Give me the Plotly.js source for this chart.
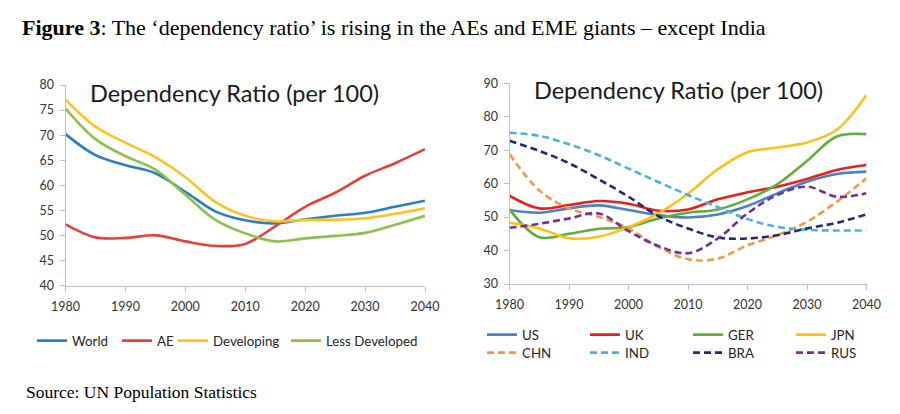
<!DOCTYPE html>
<html>
<head>
<meta charset="utf-8">
<script src="https://cdn.plot.ly/plotly-3.0.1.min.js"></script>
<style>
  html, body { margin: 0; padding: 0; background: #ffffff; }
  #chart { width: 900px; height: 414px; }
</style>
</head>
<body>
<div id="chart"></div>
<script>
// ---- Data ----
var years = [1980, 1985, 1990, 1995, 2000, 2005, 2010, 2015, 2020, 2025, 2030, 2035, 2040];

// Left panel (groups)
var world         = [70.2, 66.0, 64.0, 62.4, 58.7, 54.8, 53.0, 52.4, 53.2, 53.9, 54.5, 55.7, 56.9];
var ae            = [52.2, 49.6, 49.5, 50.0, 48.8, 47.9, 48.3, 51.8, 55.7, 58.5, 61.9, 64.4, 67.2];
var developing    = [77.1, 71.7, 68.5, 65.6, 61.6, 56.7, 53.9, 52.8, 53.1, 53.1, 53.4, 54.3, 55.4];
var lessDeveloped = [75.3, 69.2, 65.8, 63.1, 58.1, 53.1, 50.4, 48.8, 49.4, 49.9, 50.5, 52.1, 53.9];

// Right panel (countries)
var us  = [52.1, 51.3, 52.6, 53.5, 52.1, 50.6, 49.9, 50.8, 53.3, 57.1, 60.6, 62.9, 63.6];
var uk  = [56.4, 52.6, 53.6, 54.8, 54.0, 51.9, 52.3, 55.3, 57.4, 59.1, 61.4, 64.1, 65.6];
var ger = [52.3, 44.0, 45.0, 46.5, 47.0, 49.6, 51.3, 52.3, 55.3, 59.8, 66.8, 74.1, 74.8];
var jpn = [48.3, 46.6, 43.7, 44.1, 47.0, 51.1, 57.0, 64.3, 69.4, 70.8, 72.3, 76.1, 86.5];
var chn = [68.8, 58.0, 52.6, 50.1, 46.6, 41.1, 37.4, 37.6, 41.6, 44.6, 48.6, 54.6, 61.6];
var ind = [75.2, 74.3, 71.8, 68.5, 64.5, 60.5, 56.6, 53.0, 49.4, 47.1, 46.2, 46.0, 46.0];
var bra = [72.8, 69.8, 66.1, 61.3, 56.1, 50.3, 46.6, 43.9, 43.6, 44.6, 46.6, 48.3, 50.8];
var rus = [46.8, 48.0, 49.6, 51.1, 45.8, 41.4, 39.2, 43.6, 51.1, 56.6, 59.1, 56.1, 57.1];

var figTitle = "<b>Figure 3</b>: The \u2018dependency ratio\u2019 is rising in the AEs and EME giants \u2013 except India";
var panelTitle = "Dependency Ratio (per 100)";
var sourceText = "Source: UN Population Statistics";

// ---- Helpers ----
var W = 900, H = 414;
function px(x) { return x / W; }
function py(y) { return 1 - y / H; }

function line(name, y, color, dash, xa, ya, legend) {
  return {
    type: 'scatter', mode: 'lines', name: name, x: years, y: y,
    xaxis: xa, yaxis: ya, legend: legend,
    line: { color: color, width: 2.6, dash: dash || 'solid', shape: 'spline', smoothing: 1 },
    hoverinfo: 'skip'
  };
}

var DASH = '7px,4px';

var traces = [
  line('World', world, '#2A7FC0', null, 'x', 'y', 'legend'),
  line('AE', ae, '#E5403A', null, 'x', 'y', 'legend'),
  line('Developing', developing, '#FFC124', null, 'x', 'y', 'legend'),
  line('Less Developed', lessDeveloped, '#8DC04F', null, 'x', 'y', 'legend'),

  line('US', us, '#4F81BD', null, 'x2', 'y2', 'legend2'),
  line('UK', uk, '#E6211C', null, 'x2', 'y2', 'legend2'),
  line('GER', ger, '#62AE3C', null, 'x2', 'y2', 'legend2'),
  line('JPN', jpn, '#FFBF16', null, 'x2', 'y2', 'legend2'),
  line('CHN', chn, '#F79646', DASH, 'x2', 'y2', 'legend3'),
  line('IND', ind, '#4FB0DE', DASH, 'x2', 'y2', 'legend3'),
  line('BRA', bra, '#232A70', DASH, 'x2', 'y2', 'legend3'),
  line('RUS', rus, '#7030A0', DASH, 'x2', 'y2', 'legend3')
];

// legend item widths (left legend spacing irregular)
traces[0].legendwidth = 40;
traces[1].legendwidth = 11;
traces[2].legendwidth = 68;

var tickFont = { family: 'Lato, "Open Sans", sans-serif', size: 12.5, color: '#333333' };
var axisCommon = {
  showgrid: false, zeroline: false, showline: true,
  linecolor: '#BFBFBF', linewidth: 1,
  ticks: 'outside', ticklen: 5, tickcolor: '#BFBFBF', tickwidth: 1,
  tickfont: tickFont, fixedrange: true
};

function xaxisDef(domain, anchor) {
  return Object.assign({}, axisCommon, {
    domain: domain, anchor: anchor, range: [1980, 2040],
    tickmode: 'linear', tick0: 1980, dtick: 10, ticklabelstandoff: 4
  });
}
function yaxisDef(domain, anchor, range, dtick) {
  return Object.assign({}, axisCommon, {
    domain: domain, anchor: anchor, range: range,
    tickmode: 'linear', tick0: range[0], dtick: dtick, ticklabelstandoff: 3
  });
}

var legendFont = { family: 'Lato, "Open Sans", sans-serif', size: 13.3, color: '#262626' };
function legendDef(x, y, entrywidth) {
  var l = {
    orientation: 'h', x: x, y: y, xanchor: 'left', yanchor: 'middle',
    font: legendFont, bgcolor: 'rgba(0,0,0,0)', borderwidth: 0,
    itemclick: false, itemdoubleclick: false, tracegroupgap: 0
  };
  if (entrywidth) { l.entrywidth = entrywidth; l.entrywidthmode = 'pixels'; }
  return l;
}

var titleFont = { family: 'Lato, "Open Sans", sans-serif', size: 23.5, color: '#1a1a1a' };

var layout = {
  width: W, height: H,
  margin: { l: 0, r: 0, t: 0, b: 0, pad: 0 },
  paper_bgcolor: '#ffffff', plot_bgcolor: '#ffffff',
  showlegend: true,
  title: {
    text: figTitle, x: px(22), xanchor: 'left', y: py(27), yanchor: 'middle',
    xref: 'paper', yref: 'paper',
    font: { family: '"Liberation Serif", "DejaVu Serif", serif', size: 22, color: '#000000' }
  },
  xaxis: xaxisDef([px(65.5), px(425)], 'y'),
  yaxis: yaxisDef([py(285.5), py(85)], 'x', [40, 80], 5),
  xaxis2: xaxisDef([px(509.5), px(866.5)], 'y2'),
  yaxis2: yaxisDef([py(284), py(83.3)], 'x2', [30, 90], 10),
  legend: legendDef(px(32), py(341)),
  legend2: legendDef(px(482), py(335), 58),
  legend3: legendDef(px(482), py(353), 58),
  annotations: [
    { text: panelTitle, xref: 'paper', yref: 'paper', x: px(234), y: py(93),
      xanchor: 'center', yanchor: 'middle', showarrow: false, font: titleFont },
    { text: panelTitle, xref: 'paper', yref: 'paper', x: px(678), y: py(90),
      xanchor: 'center', yanchor: 'middle', showarrow: false, font: titleFont },
    { text: sourceText, xref: 'paper', yref: 'paper', x: px(24), y: py(392),
      xanchor: 'left', yanchor: 'middle', showarrow: false,
      font: { family: '"Liberation Serif", "DejaVu Serif", serif', size: 17.5, color: '#000000' } }
  ]
};

Plotly.newPlot('chart', traces, layout, { displayModeBar: false, staticPlot: true });
</script>
</body>
</html>
